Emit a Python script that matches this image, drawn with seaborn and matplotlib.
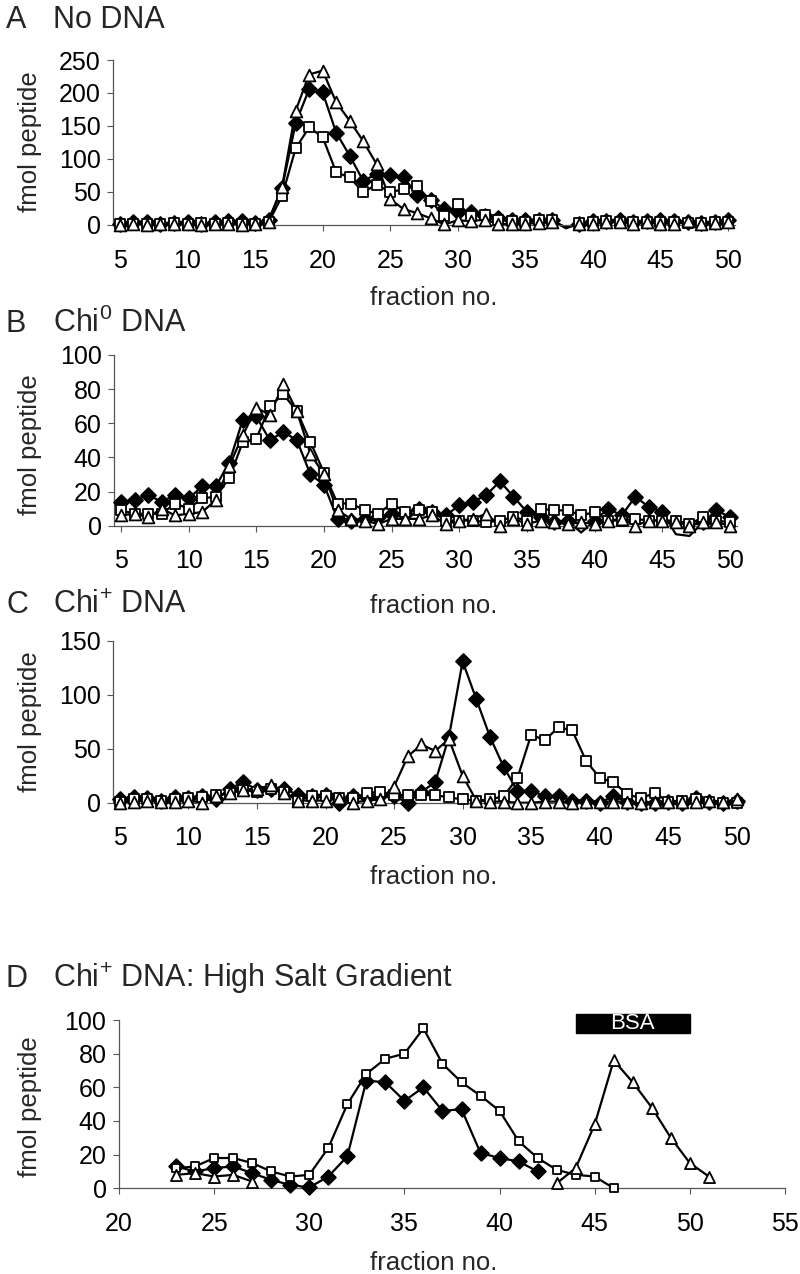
import numpy as np
import pandas as pd
import matplotlib
matplotlib.use("Agg")
import matplotlib.pyplot as plt
import seaborn as sns
from matplotlib.patches import Rectangle

sns.set_theme(style="white")
plt.rcParams["font.family"] = ["Liberation Sans", "DejaVu Sans"]
plt.rcParams["mathtext.fontset"] = "custom"
plt.rcParams["mathtext.rm"] = "Liberation Sans"
plt.rcParams["mathtext.it"] = "Liberation Sans:italic"
plt.rcParams["mathtext.bf"] = "Liberation Sans:bold"

nan = np.nan

# ---------------- data ----------------
frac_abc = list(range(5, 51))

a_diamond = [2, 5, 4, 1, 3, 4, 1, 4, 6, 6, 3, 8, 56, 154, 206, 201, 140, 105, 67, 77,
             75, 72, 46, 38, 24, 19, 20, 14, 10, 8, 7, 8, 7, -5, 2, 6, 6, 7, 5, 6,
             7, 6, 4, 3, 5, 7]
a_square = [1, 2, 1, 1, 3, 2, 3, 2, 3, 2, 1, 4, 44, 116, 148, 133, 80, 72, 50, 61,
            50, 54, 59, 36, 14, 32, 14, 15, 8, 6, 5, 8, 7, -4, 3, 5, 6, 5, 4, 5,
            4, 5, 3, 3, 4, 4]
a_triangle = [0, 1, 0, 1, 2, 1, 0, 2, 1, 0, 1, 5, 58, 173, 228, 234, 186, 158, 127, 92,
              39, 24, 18, 10, 1, 7, 6, 8, 2, 1, 2, 3, 4, -3, 2, 2, 4, 5, 1, 4,
              2, 2, 6, 2, 3, 4]

b_diamond = [14, 15, 18, 14, 18, 16, 23, 23, 37, 62, 64, 50, 55, 50, 30, 24, 4, 3, 4, 5,
             7, 7, 10, 8, 6, 12, 14, 18, 26, 17, 8, 5, 2, 3, -4, 3, 10, 6, 17, 11,
             8, -5, -6, 2, 9, 5]
b_square = [9, 7, 7, 7, 13, 10, 16, 17, 28, 49, 51, 70, 77, 67, 49, 31, 13, 13, 9, 7,
            13, 8, 9, 8, 3, 3, 3, 2, 3, 5, 3, 10, 9, 9, 6, 8, 3, 3, 4, 3,
            3, 3, 1, 5, 3, 2]
b_triangle = [6, 7, 5, 10, 6, 7, 8, 15, 35, 53, 69, 65, 83, 67, 42, 30, 9, 4, 3, 1,
              4, 4, 4, 6, 1, 3, 4, 7, 0, 4, 1, 3, 2, 1, 2, 1, 3, 4, 0, 3,
              3, 2, 0, 2, 2, 0]

c_diamond = [3, 5, 4, 2, 5, 4, 6, 3, 13, 19, 12, 13, 13, 7, 6, 7, 0, 6, 5, 7,
             6, 0, 10, 19, 61, 131, 96, 61, 33, 11, 11, 6, 6, 2, 2, 0, 6, 1, 0, 0,
             1, 0, 4, 1, 0, 2]
c_square = [1, 3, 3, 2, 3, 4, 5, 7, 9, 12, 10, 13, 10, 2, 6, 6, 4, 4, 9, 10,
            7, 7, 7, 7, 5, 3, 2, 3, 6, 23, 63, 58, 70, 67, 39, 23, 19, 8, 4, 9,
            1, 2, 3, 1, 0, 0]
c_triangle = [0, 1, 2, 1, 1, 2, 0, 6, 9, 12, 13, 16, 9, 2, 2, 2, 4, 0, 2, 3,
              15, 43, 54, 48, 59, 25, 2, 1, 1, 0, 0, 1, 1, 0, 1, 1, 1, 1, 0, 1,
              1, 1, 1, 2, 1, 3]

frac_d = list(range(23, 52))
d_diamond = [13, 10, 12, 13, 9, 5, 2, 0.5, 7, 19, 64, 63, 52, 60, 46, 47, 21, 18, 16, 10,
             nan, nan, nan, nan, nan, nan, nan, nan, nan]
d_square = [12, 13, 18, 18, 15, 10, 7, 8, 24, 50, 68, 77, 80, 95, 74, 63, 55, 46, 28, 18,
            11, 8, 7, 0, nan, nan, nan, nan, nan]
d_triangle = [8, 9, 7, 8, 4, nan, nan, nan, nan, nan, nan, nan, nan, nan, nan, nan, nan, nan, nan, nan,
              3, 12, 38, 76, 63, 48, 30, 15, 7]

bsa_span = (44, 50)

panel_titles = ["No DNA", r"Chi$^{0}$ DNA", r"Chi$^{+}$ DNA", r"Chi$^{+}$ DNA: High Salt Gradient"]
panel_letters = ["A", "B", "C", "D"]
ticks_abc = [5, 10, 15, 20, 25, 30, 35, 40, 45, 50]
ticks_d = [20, 25, 30, 35, 40, 45, 50, 55]

# ---------------- figure ----------------
W, H = 800, 1274
fig = plt.figure(figsize=(W / 100, H / 100), dpi=100)
fig.patch.set_facecolor("white")


def make_ax(x0, x1, ytop, ybot):
    return fig.add_axes([x0 / W, 1 - ybot / H, (x1 - x0) / W, (ybot - ytop) / H])


def ftext(xpx, ypx, s, **kw):
    fig.text(xpx / W, 1 - ypx / H, s, **kw)


def draw_series(ax, x, y, marker, face, size):
    df = pd.DataFrame({"fraction": x, "value": y})
    df["seg"] = df["value"].isna().cumsum()
    d = df.dropna()
    sns.lineplot(data=d, x="fraction", y="value", units="seg", estimator=None,
                 color="black", linewidth=1.6, ax=ax, legend=False, sort=False)
    m = d[d["value"] >= 0]
    sns.scatterplot(data=m, x="fraction", y="value", marker=marker, s=size,
                    color=face, edgecolor="black", linewidth=1.3, ax=ax,
                    zorder=3, legend=False, clip_on=False)


def style_ax(ax, xlim, ylim, ytop, yticks, xticks):
    ax.set_xlim(*xlim)
    ax.set_ylim(*ylim)
    ax.set_facecolor("none")
    for s in ["top", "right"]:
        ax.spines[s].set_visible(False)
    for s in ["left", "bottom"]:
        ax.spines[s].set_color("#555555")
        ax.spines[s].set_linewidth(0.9)
    ax.spines["bottom"].set_position(("data", 0))
    ax.spines["left"].set_bounds(0, ytop)
    ax.spines["bottom"].set_bounds(xlim[0], xlim[1])
    ax.set_xticks(xticks)
    ax.set_yticks(yticks)
    ax.tick_params(axis="both", direction="out", length=4, width=0.8,
                   color="#555555", labelsize=18, labelcolor="black",
                   left=True, bottom=True)
    ax.tick_params(axis="x", pad=13)
    ax.tick_params(axis="y", pad=5)
    ax.set_xlabel("")
    ax.set_ylabel("")
    ax.grid(False)


sizes_abc = {"D": 58, "s": 52, "^": 72}
sizes_d = {"D": 56, "s": 36, "^": 64}

# Panel A
axA = make_ax(113.2, 734.8, 60, 225 + 15 * 0.66)
for y, mk, fc in [(a_diamond, "D", "black"), (a_square, "s", "white"), (a_triangle, "^", "white")]:
    draw_series(axA, frac_abc, y, mk, fc, sizes_abc[mk])
style_ax(axA, (4.5, 50.5), (-15, 250), 250, [0, 50, 100, 150, 200, 250], ticks_abc)

# Panel B
axB = make_ax(114.2, 736.8, 355, 525.7 + 8 * 1.707)
for y, mk, fc in [(b_diamond, "D", "black"), (b_square, "s", "white"), (b_triangle, "^", "white")]:
    draw_series(axB, frac_abc, y, mk, fc, sizes_abc[mk])
style_ax(axB, (4.5, 50.5), (-8, 100), 100, [0, 20, 40, 60, 80, 100], ticks_abc)

# Panel C
axC = make_ax(113.1, 743.6, 641, 802.7 + 10 * 1.078)
for y, mk, fc in [(c_diamond, "D", "black"), (c_square, "s", "white"), (c_triangle, "^", "white")]:
    draw_series(axC, frac_abc, y, mk, fc, sizes_abc[mk])
style_ax(axC, (4.5, 50.5), (-10, 150), 150, [0, 50, 100, 150], ticks_abc)

# Panel D
axD = make_ax(119, 785, 1020, 1188.3)
for y, mk, fc in [(d_diamond, "D", "black"), (d_square, "s", "white"), (d_triangle, "^", "white")]:
    draw_series(axD, frac_d, y, mk, fc, sizes_d[mk])
style_ax(axD, (20, 55), (0, 100), 100, [0, 20, 40, 60, 80, 100], ticks_d)
axD.add_patch(Rectangle((bsa_span[0], 92.5), bsa_span[1] - bsa_span[0], 11,
                        facecolor="black", edgecolor="black", clip_on=False, zorder=4))
axD.text((bsa_span[0] + bsa_span[1]) / 2, 98, "BSA", color="white", fontsize=16,
         ha="center", va="center", zorder=5, clip_on=False)

# titles
title_base = [28, 332, 613, 987]
for letter, title, yb in zip(panel_letters, panel_titles, title_base):
    ftext(6, yb, letter, fontsize=22, ha="left", va="baseline")
    ftext(53, yb, title, fontsize=22, ha="left", va="baseline")

# axis labels
ylab_centers = [142, 445, 722, 1107]
for yc in ylab_centers:
    ftext(30, yc, "fmol peptide", fontsize=18.5, rotation=90, ha="center", va="center")
xlab_base = [305, 613, 884, 1270]
for yb in xlab_base:
    ftext(434, yb, "fraction no.", fontsize=18.5, ha="center", va="baseline")

fig.savefig("out.png", dpi=100, facecolor="white")
